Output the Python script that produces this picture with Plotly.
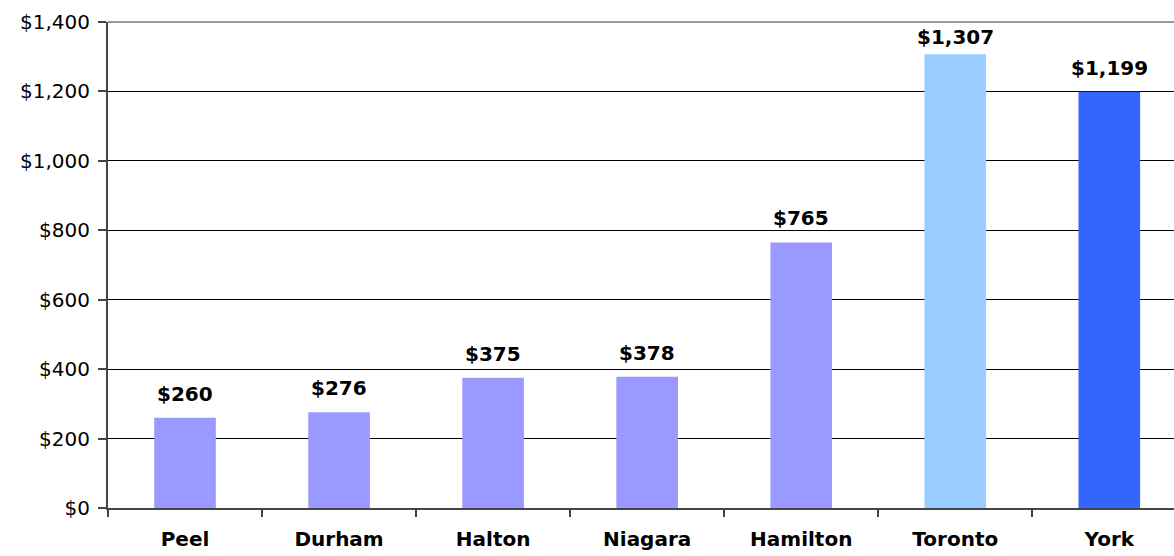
import plotly.graph_objects as go

categories = ["Peel", "Durham", "Halton", "Niagara", "Hamilton", "Toronto", "York"]
values = [260, 276, 375, 378, 765, 1307, 1199]
colors = ["#9999FF", "#9999FF", "#9999FF", "#9999FF", "#9999FF", "#99CCFF", "#3366FF"]
y_ticks = [0, 200, 400, 600, 800, 1000, 1200, 1400]
y_tick_labels = ["$0", "$200", "$400", "$600", "$800", "$1,000", "$1,200", "$1,400"]

FONT = "DejaVu Sans"

fig = go.Figure()
fig.add_trace(go.Bar(
    x=categories, y=values, marker=dict(color=colors, line=dict(width=0)),
    width=0.4, hoverinfo="skip",
))

for c, v in zip(categories, values):
    fig.add_annotation(
        x=c, y=v, text=f"<b>${v:,}</b>", showarrow=False,
        yanchor="bottom", yshift=10 if v < 1300 else 3,
        font=dict(family=FONT, size=20, color="#000000"),
    )

fig.update_layout(
    width=1174, height=556,
    margin=dict(l=108, r=0, t=22, b=48),
    plot_bgcolor="white", paper_bgcolor="white",
    showlegend=False,
    font=dict(family=FONT, size=19, color="#000000"),
    bargap=0.6,
)
fig.update_xaxes(
    type="category", range=[-0.5, 6.42],
    showgrid=False, showline=True, linecolor="#444444", linewidth=2,
    ticks="outside", tickson="boundaries", ticklen=7, tickcolor="#444444", tickwidth=1.5,
    tickfont=dict(family=FONT, size=20, color="#000000", weight="bold"),
    ticklabelstandoff=12,
)
fig.update_yaxes(
    range=[0, 1400], tickvals=y_ticks, ticktext=y_tick_labels,
    showgrid=True, gridcolor="#000000", gridwidth=1,
    showline=True, linecolor="#444444", linewidth=2,
    ticks="outside", ticklen=8, tickcolor="#444444", tickwidth=1.5,
    tickfont=dict(family=FONT, size=20, color="#000000"),
    ticklabelstandoff=4,
    zeroline=False,
)
fig.add_shape(type="line", xref="paper", yref="paper", x0=0, x1=1, y0=1, y1=1,
              line=dict(color="#999999", width=2))

fig.write_html(
    "out.html",
    config={"displayModeBar": False},
    post_script="document.body.style.margin='0';document.body.style.overflow='hidden';",
)
